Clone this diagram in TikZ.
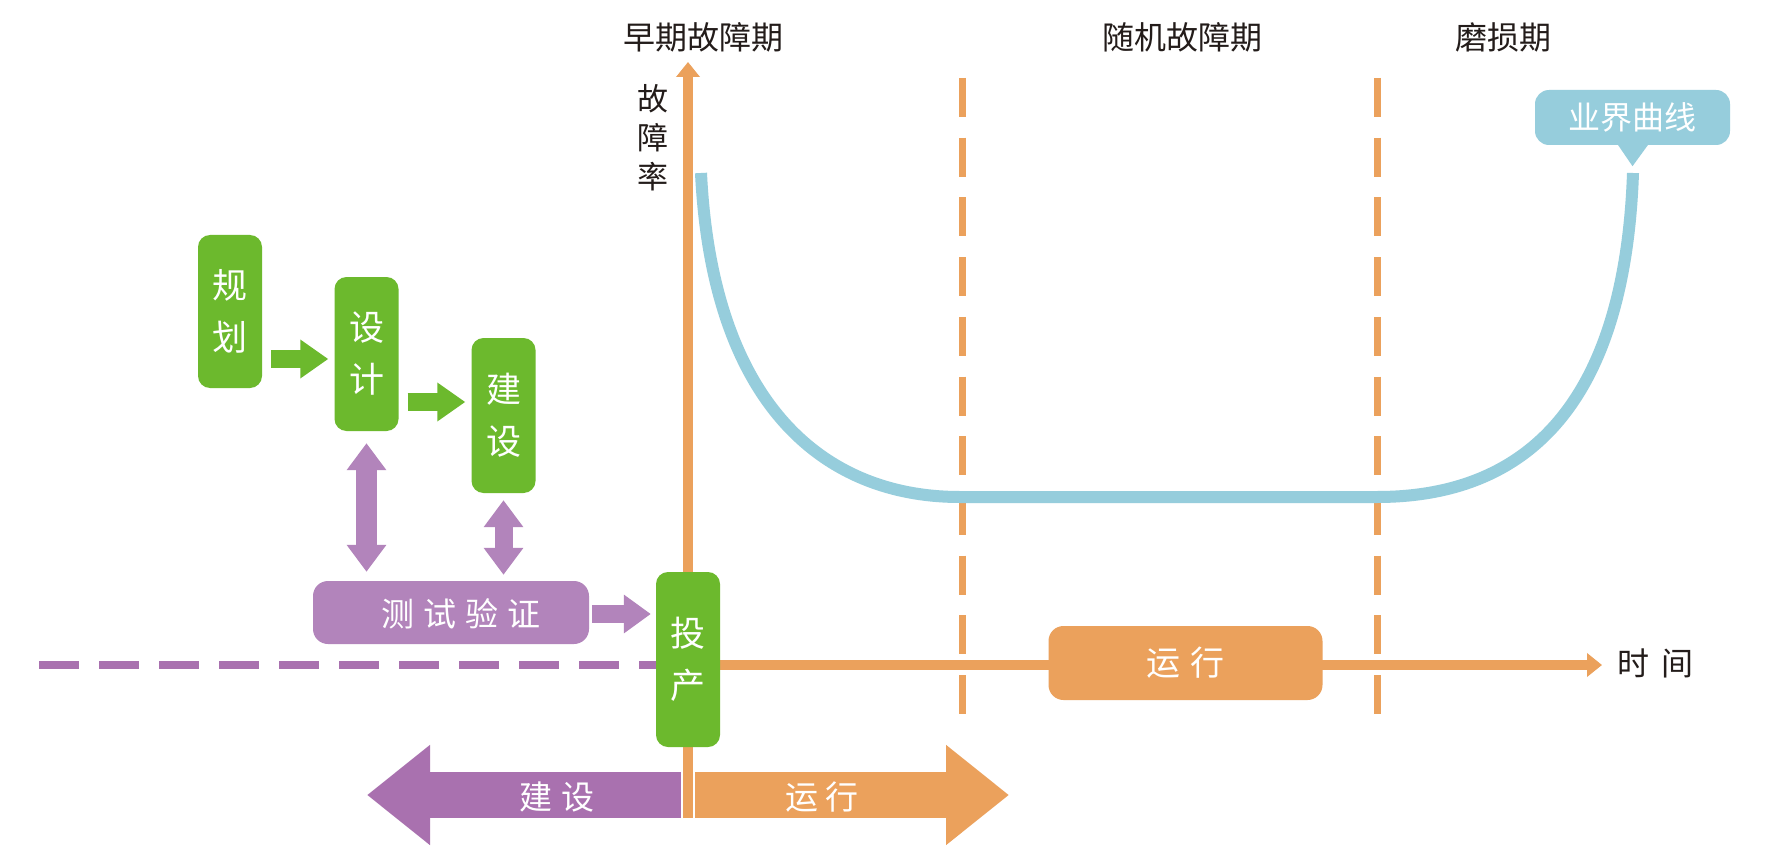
\documentclass[tikz,border=0pt]{standalone}
\usepackage{fontspec}
\setmainfont{Noto Sans CJK SC}
\usetikzlibrary{arrows.meta}
\definecolor{cgreen}{RGB}{108,185,45}
\definecolor{corange}{RGB}{235,161,92}
\definecolor{clpurple}{RGB}{178,132,187}
\definecolor{cdpurple}{RGB}{169,113,175}
\definecolor{cblue}{RGB}{150,205,220}
\definecolor{ctext}{RGB}{35,28,26}
\tikzset{
  gbox/.style={fill=cgreen, rounded corners=12pt, minimum width=64pt, text=white, align=center,
    font=\fontsize{35}{52}\selectfont, inner sep=0pt},
  pbox/.style={fill=clpurple, rounded corners=15pt, inner sep=0pt},
  obox/.style={fill=corange, rounded corners=15pt, inner sep=0pt, text=white, font=\fontsize{34}{38}\selectfont},
  wtext/.style={text=white, inner sep=0pt, font=\fontsize{33}{38}\selectfont},
  title/.style={text=ctext, inner sep=0pt, font=\fontsize{32}{38}\selectfont},
  axisline/.style={draw=corange, line width=10pt, -{Triangle[width=23pt,length=15pt]}},
  odash/.style={draw=corange, line width=7pt, dash pattern=on 39pt off 20.7pt},
  pdash/.style={draw=cdpurple, line width=8pt, dash pattern=on 40pt off 20pt},
  curveline/.style={draw=cblue, line width=12pt},
  garrow/.style={draw=cgreen, line width=18pt, -{Triangle[width=37pt,length=28pt]}},
  parrow/.style={draw=clpurple, line width=18pt, -{Triangle[width=37pt,length=27pt]}},
  pdarrow/.style={draw=clpurple, {Triangle[width=38pt,length=27pt]}-{Triangle[width=38pt,length=27pt]}},
  bigarrow/.style={line width=46pt, -{Triangle[width=96pt,length=63pt]}},
}
\begin{document}
\begin{tikzpicture}[x=1pt,y=-1pt]
\useasboundingbox[fill=white] (0,0) rectangle (1772,861);

% coordinates
\coordinate (O) at (688,665);
\coordinate (ytip) at (688,62);
\coordinate (ybot) at (688,818);
\coordinate (xtip) at (1602,665);
\coordinate (d1top) at (962,78);
\coordinate (d1bot) at (962,717);
\coordinate (d2top) at (1377,78);
\coordinate (d2bot) at (1377,717);
\coordinate (dstart) at (39,665);
\coordinate (cL) at (701,173);
\coordinate (cR) at (1633,173);

% vertical dashed lines
\draw[odash] (d1top) -- (d1bot);
\draw[odash] (d2top) -- (d2bot);

% bathtub curve
\draw[curveline] (cL) .. controls (712,400) and (820,497) .. (960,497)
  -- (1377,497) .. controls (1530,497) and (1625,400) .. (cR);

% axes
\draw[axisline] (ybot) -- (ytip);
\draw[axisline] (O) -- (xtip);

% run box on time axis
\node[obox, minimum width=274pt, minimum height=74pt] (yunxing) at (1185.5,663) {运\hspace{10pt}行};

% purple dashed line
\draw[pdash] (dstart) -- (O);

% callout
\node[fill=cblue, rounded corners=14pt, minimum width=195pt, minimum height=55pt, inner sep=0pt,
  text=white, font=\fontsize{32}{36}\selectfont] (yejie) at (1632.5,117.5) {业界曲线};
\fill[cblue] ([xshift=-15pt,yshift=1pt]yejie.south) -- ([xshift=16pt,yshift=1pt]yejie.south)
  -- ([yshift=-21pt]yejie.south) -- cycle;

% green boxes
\node[gbox, minimum height=153pt] (guihua) at (230,311.5) {规\\划};
\node[gbox, minimum height=154pt] (sheji) at (366.5,354) {设\\计};
\node[gbox, minimum height=155pt] (jianshe) at (503.5,415.5) {建\\设};
\node[gbox, minimum height=175pt] (touchan) at (688,659.5) {投\\产};

% test box
\node[pbox, minimum width=276pt, minimum height=63pt] (ceshi) at (451,612.5) {};
\node[wtext] (ceshitext) at (461,614) {测\hspace{9pt}试\hspace{9pt}验\hspace{9pt}证};

% green arrows
\draw[garrow, shorten <=9pt, shorten >=6pt] (guihua.east |- 0,359) -- (sheji.west |- 0,359);
\draw[garrow, shorten <=9pt, shorten >=6pt] (sheji.east |- 0,402) -- (jianshe.west |- 0,402);

% purple double arrows
\draw[pdarrow, line width=21pt, shorten <=12pt, shorten >=9pt] (sheji.south) -- (ceshi.north -| sheji.south);
\draw[pdarrow, line width=18pt, shorten <=7pt, shorten >=6pt] (jianshe.south) -- (ceshi.north -| jianshe.south);

% test -> production
\draw[parrow, shorten <=3pt, shorten >=5pt] (ceshi.east |- 0,614) -- (touchan.west |- 0,614);

% big arrows
\coordinate (bL) at (681,795);
\coordinate (bLtip) at (367,795);
\coordinate (bR) at (695,795);
\coordinate (bRtip) at (1009,795);
\draw[bigarrow, draw=cdpurple] (bL) -- (bLtip);
\draw[bigarrow, draw=corange] (bR) -- (bRtip);
\node[wtext] (jianshe2) at (557,797) {建\hspace{9pt}设};
\node[wtext] (yunxing2) at (822,797) {运\hspace{7pt}行};

% titles and labels
\node[title] (t1) at (703,37) {早期故障期};
\node[title] (t2) at (1182,37) {随机故障期};
\node[title] (t3) at (1503,37) {磨损期};
\node[title, align=center, font=\fontsize{31}{39}\selectfont] (ylab) at (653,138) {故\\障\\率};
\node[title, font=\fontsize{32}{36}\selectfont] (xlab) at (1655,663) {时\hspace{12pt}间};
\end{tikzpicture}
\end{document}
